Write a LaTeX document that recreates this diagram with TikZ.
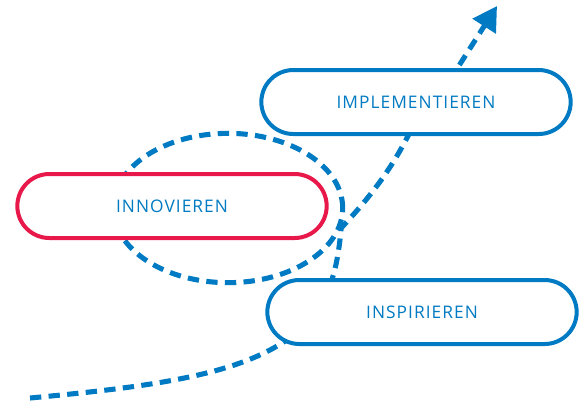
\documentclass[tikz,border=0pt]{standalone}
\usepackage{fontspec}
\setmainfont[LetterSpace=6]{Open Sans}
\usepackage{tikz}
\usetikzlibrary{shapes.geometric,arrows.meta,positioning,backgrounds}
\usepackage{xcolor}
\definecolor{flowblue}{RGB}{0,122,194}
\definecolor{innored}{RGB}{232,24,74}

\tikzset{
  phase/.style={draw=flowblue, line width=3pt, fill=white, rounded corners=24pt,
    minimum width=232pt, minimum height=48pt, text=flowblue,
    font=\fontsize{13}{15}\selectfont},
  flow/.style={draw=flowblue, line width=3.8pt, dash pattern=on 8.5pt off 5.5pt}
}

\begin{document}
\begin{tikzpicture}[x=0.75pt, y=-0.75pt]
    \useasboundingbox (0,0) rectangle (581,401);

    % Loop round the innovation phase
    \node[flow, ellipse, minimum width=172pt, minimum height=112pt] (cycle) at (228,208) {};

    % Phases
    \node[phase, draw=innored] (innov) at (172,206) {INNOVIEREN};
    \node[phase] (impl) at (416,102) {IMPLEMENTIEREN};
    \node[phase] (insp) at (422,312) {INSPIRIEREN};

    % Points of the way
    \coordinate (start) at (30,398);
    \coordinate (join) at (cycle.-10);
    \coordinate (pass) at (432,108);
    \coordinate (tip) at (497,6);

    % The way through the phases
    \begin{pgfonlayer}{background}
        \draw[flow, -{Triangle[length=18pt, width=20pt]}]
            (start) .. controls (170,385) and (250,372) .. (300,330)
            .. controls (332,302) and (338,262) .. (join)
            .. controls (372,195) and (392,168) .. (410,132)
            -- (pass) -- (tip);
    \end{pgfonlayer}
\end{tikzpicture}
\end{document}
